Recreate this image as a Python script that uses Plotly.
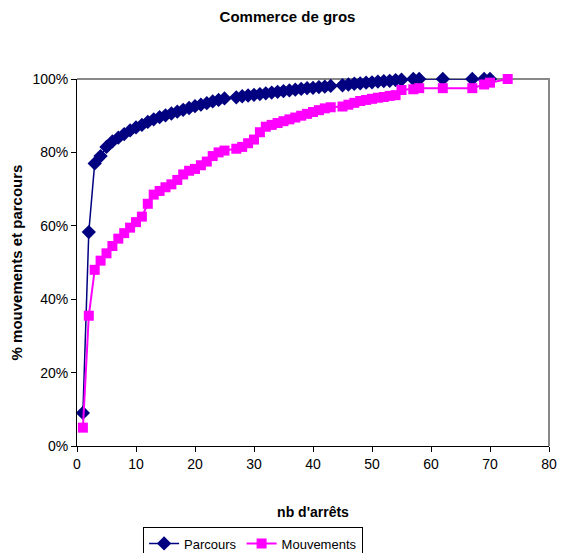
import plotly.graph_objects as go

NAVY = '#000080'
MAGENTA = '#FF00FF'
FONT = 'Liberation Sans Narrow, Liberation Sans, Arial, sans-serif'

TITRE = 'Commerce de gros'
X_TITRE = "nb d'arrêts"
Y_TITRE = '% mouvements et parcours'

parcours_x = [1, 2, 3, 4, 5, 6, 7, 8, 9, 10, 11, 12, 13, 14, 15, 16, 17, 18, 19, 20,
              21, 22, 23, 24, 25, 27, 28, 29, 30, 31, 32, 33, 34, 35, 36, 37, 38, 39,
              40, 41, 42, 43, 45, 46, 47, 48, 49, 50, 51, 52, 53, 54, 55, 57, 58, 62,
              67, 69, 70]
parcours_y = [9, 58.3, 77, 79, 81.5, 83, 84, 85, 86, 86.8, 87.5, 88.3, 89, 89.6, 90.1,
              90.6, 91.1, 91.6, 92.1, 92.6, 93, 93.4, 93.9, 94.3, 94.7, 95, 95.3, 95.5,
              95.7, 95.9, 96.1, 96.3, 96.5, 96.7, 96.9, 97.1, 97.3, 97.5, 97.6, 97.8,
              97.9, 98.1, 98.3, 98.5, 98.7, 98.8, 99, 99.1, 99.3, 99.4, 99.5, 99.7,
              99.8, 100, 100, 100, 100, 100, 100]

mouv_x = [1, 2, 3, 4, 5, 6, 7, 8, 9, 10, 11, 12, 13, 14, 15, 16, 17, 18, 19, 20,
          21, 22, 23, 24, 25, 27, 28, 29, 30, 31, 32, 33, 34, 35, 36, 37, 38, 39,
          40, 41, 42, 43, 45, 46, 47, 48, 49, 50, 51, 52, 53, 54, 55, 57, 58, 62,
          67, 69, 70, 73]
mouv_y = [5, 35.5, 48, 50.5, 52.5, 54.5, 56.5, 58, 59.5, 61, 62.5, 66, 68.5, 69.5,
          70.5, 71.3, 72.5, 74, 75, 75.5, 76.5, 77.5, 79, 80, 80.5, 81, 81.5, 82.5,
          83.5, 85.5, 87, 87.5, 88, 88.5, 89, 89.5, 90, 90.5, 91, 91.5, 92, 92.3,
          92.5, 93, 93.5, 94, 94.3, 94.6, 94.9, 95.1, 95.4, 95.6, 97, 97.2, 97.5,
          97.5, 97.5, 98.5, 99, 100]

fig = go.Figure()
fig.add_trace(go.Scatter(
    x=parcours_x, y=[v / 100 for v in parcours_y], name='Parcours',
    mode='lines+markers', cliponaxis=False,
    line=dict(color=NAVY, width=1.5),
    marker=dict(symbol='diamond', size=11, color=NAVY),
))
fig.add_trace(go.Scatter(
    x=mouv_x, y=[v / 100 for v in mouv_y], name='Mouvements',
    mode='lines+markers', cliponaxis=False,
    line=dict(color=MAGENTA, width=2),
    marker=dict(symbol='square', size=10, color=MAGENTA),
))

# la page a une marge de 8px : figure de 559x545
fig.update_layout(
    width=559, height=545,
    margin=dict(l=69, r=18, t=71, b=107, autoexpand=False),
    paper_bgcolor='white', plot_bgcolor='white',
    font=dict(family=FONT, size=14, color='black'),
    title=dict(text='<b>' + TITRE + '</b>', x=0.5, xanchor='center',
               y=1 - 9 / 545, yanchor='middle', font=dict(size=15)),
    showlegend=True,
    legend=dict(orientation='h', x=0.14, xanchor='left', y=-0.222, yanchor='top',
                bordercolor='black', borderwidth=1, bgcolor='white',
                font=dict(size=13), tracegroupgap=0),
    xaxis=dict(range=[0, 80], dtick=10, showgrid=False, zeroline=False,
               automargin=False,
               showline=True, linecolor='black', linewidth=1, mirror=False,
               ticks='outside', ticklen=5, tickcolor='black',
               title=dict(text='<b>' + X_TITRE + '</b>', standoff=36,
                          font=dict(size=14))),
    yaxis=dict(range=[0, 1], dtick=0.2, tickformat='.0%', showgrid=False,
               automargin=False,
               zeroline=False, showline=True, linecolor='black', linewidth=1,
               ticks='outside', ticklen=5, tickcolor='black',
               title=dict(text='<b>' + Y_TITRE + '</b>', standoff=15,
                          font=dict(size=15))),
    shapes=[dict(type='path', xref='x domain', yref='y domain',
                 path='M 0 1 L 1 1 L 1 0', line=dict(color='#888888', width=2),
                 layer='below')],
)

fig.write_html('out.html')
